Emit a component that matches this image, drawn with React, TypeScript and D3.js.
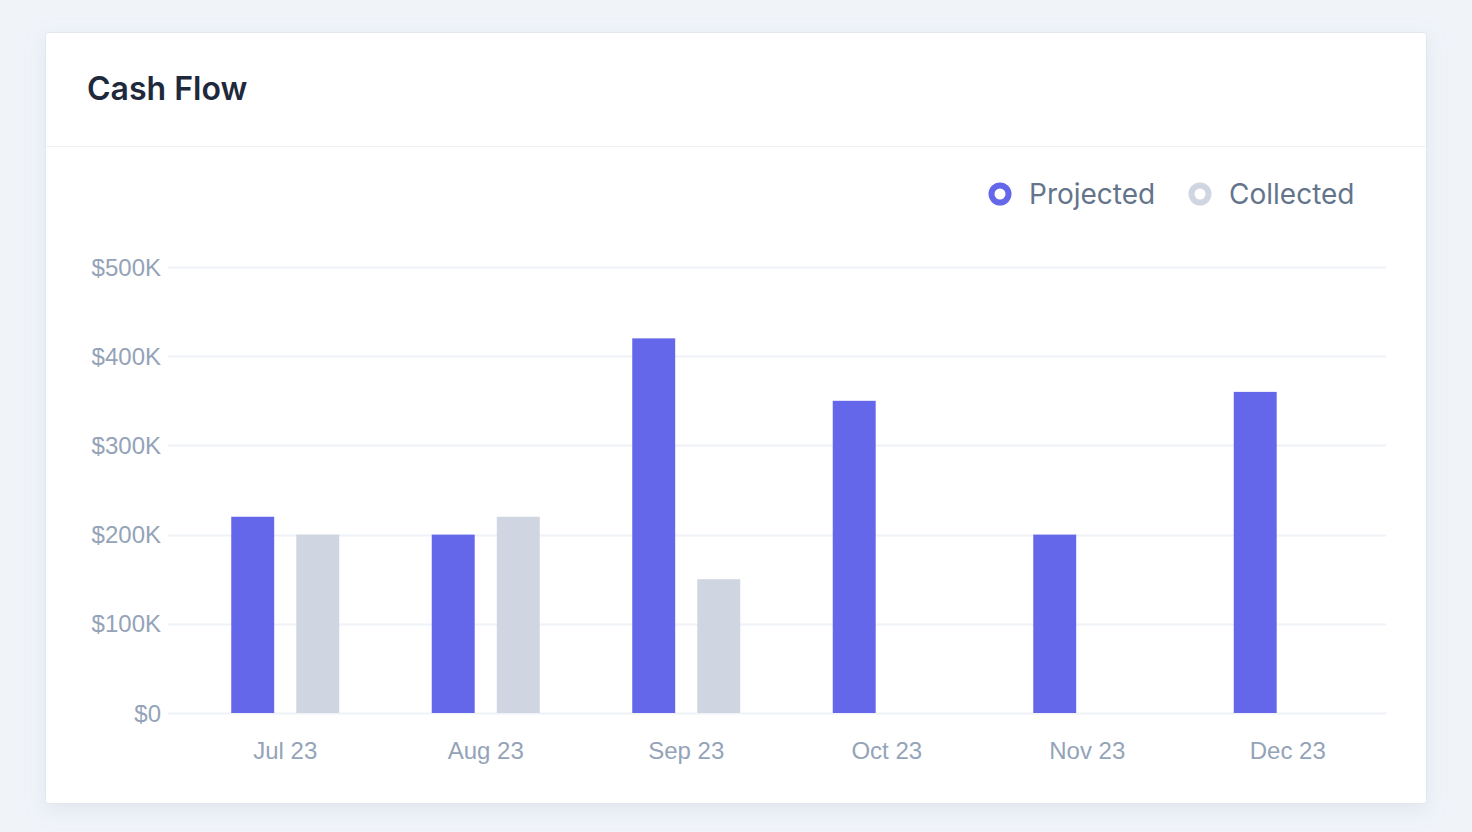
import { useRef, useEffect } from 'react'
import * as d3 from 'd3'

const months = ['Jul 23', 'Aug 23', 'Sep 23', 'Oct 23', 'Nov 23', 'Dec 23']
const projected = [220000, 200000, 420000, 350000, 200000, 360000]
const collected: (number | null)[] = [200000, 220000, 150000, null, null, null]
const yTicks = [0, 100000, 200000, 300000, 400000, 500000]

const seriesNames = ['Projected', 'Collected']
const seriesColors = ['#6467e9', '#cfd6e1']

export default function App() {
  const svgRef = useRef<SVGSVGElement>(null)

  useEffect(() => {
    if (!svgRef.current) return
    const svg = d3.select(svgRef.current)
    svg.selectAll('*').remove()

    // page background + card
    svg.append('rect').attr('width', 1472).attr('height', 832).attr('fill', '#f0f4f9')

    const defs = svg.append('defs')
    const f = defs.append('filter').attr('id', 'shadow').attr('x', '-10%').attr('y', '-10%').attr('width', '120%').attr('height', '130%')
    f.append('feDropShadow').attr('dx', 0).attr('dy', 6).attr('stdDeviation', 10)
      .attr('flood-color', '#94a3b8').attr('flood-opacity', 0.18)

    svg.append('rect')
      .attr('x', 45.5).attr('y', 32.5).attr('width', 1381).attr('height', 771)
      .attr('rx', 3).attr('fill', '#fff').attr('stroke', '#e3e8ef')
      .attr('filter', 'url(#shadow)')

    svg.append('text')
      .attr('x', 87).attr('y', 100)
      .attr('font-family', 'Inter, sans-serif').attr('font-weight', 600)
      .attr('font-size', 32).attr('fill', '#1e293b')
      .text('Cash Flow')

    svg.append('line')
      .attr('x1', 46).attr('x2', 1426).attr('y1', 146.5).attr('y2', 146.5)
      .attr('stroke', '#eef1f5')

    // Legend
    const legendX = [1000, 1200]
    seriesNames.forEach((name, i) => {
      const g = svg.append('g').attr('transform', `translate(${legendX[i]},194)`)
      g.append('circle').attr('r', 8.5).attr('fill', 'none')
        .attr('stroke', seriesColors[i]).attr('stroke-width', 6)
      g.append('text').attr('x', 29).attr('dy', '0.36em')
        .attr('font-family', 'Inter, sans-serif').attr('font-size', 28)
        .attr('fill', '#64748b').text(name)
    })

    // Scales
    const y = d3.scaleLinear().domain([0, 500000]).range([713, 267])
    const x = d3.scaleBand().domain(months).range([185, 1388]).padding(0)
    const xInner = d3.scaleBand().domain(seriesNames).range([0, 108]).paddingInner(0.34)
    const groupOffset = (x.bandwidth() - 108) / 2

    // Grid + y labels
    const grid = svg.append('g')
    yTicks.forEach(t => {
      grid.append('line')
        .attr('x1', 168).attr('x2', 1386)
        .attr('y1', Math.round(y(t)) + 0.5).attr('y2', Math.round(y(t)) + 0.5)
        .attr('stroke', '#eff2f7').attr('stroke-width', 2)
      grid.append('text')
        .attr('x', 161).attr('y', y(t)).attr('dy', '0.36em')
        .attr('text-anchor', 'end')
        .attr('font-family', '"Liberation Sans", Arial, sans-serif')
        .attr('font-size', 24).attr('fill', '#94a3b8')
        .text(t === 0 ? '$0' : `$${d3.format('d')(t / 1000)}K`)
    })

    // Bars
    const groups = svg.append('g').selectAll('g')
      .data(months)
      .enter()
      .append('g')
      .attr('transform', d => `translate(${(x(d) ?? 0) + groupOffset},0)`)

    groups.append('rect')
      .attr('x', xInner('Projected') ?? 0)
      .attr('y', (_, i) => y(projected[i]))
      .attr('width', xInner.bandwidth())
      .attr('height', (_, i) => y(0) - y(projected[i]))
      .attr('fill', seriesColors[0])

    groups.filter((_, i) => collected[i] != null)
      .append('rect')
      .attr('x', xInner('Collected') ?? 0)
      .attr('y', d => y(collected[months.indexOf(d)] as number))
      .attr('width', xInner.bandwidth())
      .attr('height', d => y(0) - y(collected[months.indexOf(d)] as number))
      .attr('fill', seriesColors[1])

    // X labels
    svg.append('g').selectAll('text')
      .data(months)
      .enter()
      .append('text')
      .attr('x', d => (x(d) ?? 0) + x.bandwidth() / 2)
      .attr('y', 750).attr('dy', '0.36em')
      .attr('text-anchor', 'middle')
      .attr('font-family', '"Liberation Sans", Arial, sans-serif')
      .attr('font-size', 24).attr('fill', '#94a3b8')
      .text(d => d)
  }, [])

  return (
    <svg
      ref={svgRef}
      width={1472}
      height={832}
      style={{ position: 'fixed', top: 0, left: 0, display: 'block' }}
    />
  )
}
